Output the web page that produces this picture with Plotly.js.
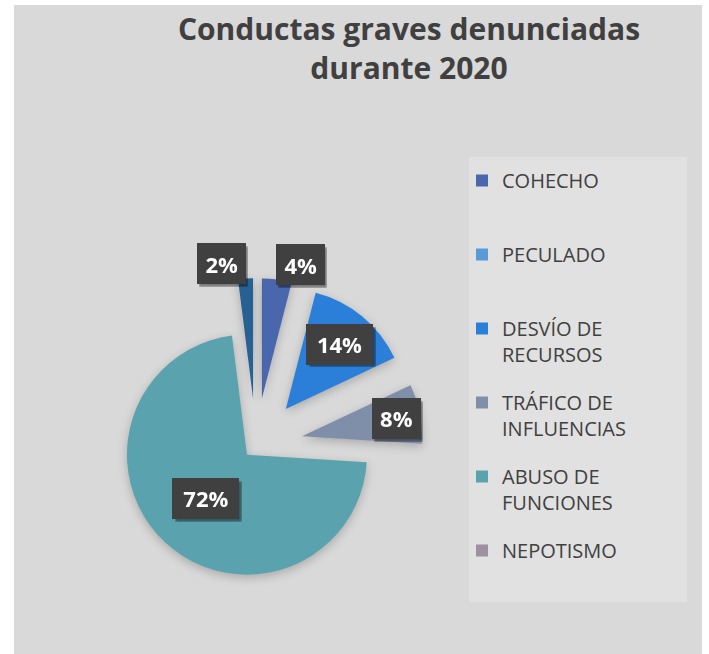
<!DOCTYPE html>
<html>
<head>
<meta charset="utf-8">
<script src="https://cdn.plot.ly/plotly-3.0.1.min.js"></script>
<style>
  html, body { margin: 0; padding: 0; background: #ffffff; }
  #chart { position: absolute; left: 14px; top: 5px; width: 688px; height: 649px; }
  .pielayer g.slicetext { filter: url(#lblbg); }
  .pielayer .trace:first-child g.slice path.surface { filter: drop-shadow(0px 3px 5px rgba(0,0,0,0.22)); }
</style>
</head>
<body>
<svg width="0" height="0" style="position:absolute">
  <defs>
    <filter id="lblbg" x="-0.6" y="-0.6" width="2.2" height="2.2" primitiveUnits="objectBoundingBox" color-interpolation-filters="sRGB">
      <feFlood flood-color="#000000" flood-opacity="0.45" x="-0.17" y="-0.07" width="1.46" height="1.33" result="sh"/>
      <feGaussianBlur in="sh" stdDeviation="0.04 0.06" result="shb"/>
      <feFlood flood-color="#404040" x="-0.23" y="-0.165" width="1.46" height="1.33" result="box"/>
      <feMerge>
        <feMergeNode in="shb"/>
        <feMergeNode in="box"/>
        <feMergeNode in="SourceGraphic"/>
      </feMerge>
    </filter>
  </defs>
</svg>
<div id="chart"></div>
<script>
// ---- data ----
const categories = ['COHECHO', 'PECULADO', 'DESVÍO DE RECURSOS', 'TRÁFICO DE INFLUENCIAS', 'ABUSO DE FUNCIONES', 'NEPOTISMO'];
const legendLabels = ['COHECHO<br>\u00a0', 'PECULADO<br>\u00a0', 'DESVÍO DE<br>RECURSOS', 'TRÁFICO DE<br>INFLUENCIAS', 'ABUSO DE<br>FUNCIONES', 'NEPOTISMO<br>\u00a0'];
const values = [4, 0, 14, 8, 72, 0];
const extraLabel = 'OTROS';
const extraValue = 2;
const colors = ['#4A66AC', '#5B9BD5', '#2B7FD9', '#7F8FAA', '#5AA3AE', '#9E8FA1'];
const extraColor = '#276092';

// ---- styling ----
const pulls = [0.39, 0.39, 0.39, 0.39, 0.11, 0.39, 0.39];
const textPos = values.map((v, i) => v === 0 ? 'none' : (i === 0 ? 'outside' : 'inside')).concat(['outside']);
const labelFont = { family: 'Open Sans', size: 22, weight: 'bold', color: '#ffffff' };

const mainTrace = {
  type: 'pie',
  labels: categories.concat([extraLabel]),
  values: values.concat([extraValue]),
  marker: { colors: colors.concat([extraColor]), line: { width: 0 } },
  sort: false,
  direction: 'clockwise',
  rotation: 0,
  pull: pulls,
  textinfo: 'percent',
  textposition: textPos,
  insidetextorientation: 'horizontal',
  insidetextfont: labelFont,
  outsidetextfont: labelFont,
  showlegend: false,
  hoverinfo: 'label+percent',
  domain: { x: [0.1093, 0.5942], y: [0.0650, 0.5790] }
};

// legend-only helper traces (label swatches only, tiny and hidden beneath the legend panel)
const legendTraces = categories.map((c, i) => ({
  type: 'pie',
  labels: [legendLabels[i]],
  marker: { colors: [colors[i]], line: { width: 0 } },
  textinfo: 'none',
  hoverinfo: 'skip',
  legendgroup: 'g' + i,
  showlegend: true,
  sort: false,
  domain: { x: [0.95, 0.951], y: [0.15, 0.151] }
}));

const layout = {
  width: 688,
  height: 649,
  margin: { l: 0, r: 0, t: 0, b: 0 },
  paper_bgcolor: '#D9D9D9',
  plot_bgcolor: '#D9D9D9',
  title: {
    text: 'Conductas graves denunciadas<br>durante 2020',
    font: { family: 'Open Sans', size: 30, weight: 'bold', color: '#404040' },
    x: 395 / 688,
    xanchor: 'center',
    xref: 'container',
    y: 1 - 35 / 649,
    yanchor: 'top',
    yref: 'container'
  },
  legend: {
    x: 448 / 688,
    xanchor: 'left',
    y: 1 - 156 / 649,
    yanchor: 'top',
    bgcolor: 'rgba(0,0,0,0)',
    borderwidth: 0,
    traceorder: 'grouped',
    tracegroupgap: 19,
    valign: 'top',
    font: { family: 'Open Sans', size: 20, color: '#404040' }
  },
  shapes: [{
    type: 'rect', xref: 'paper', yref: 'paper', layer: 'above',
    x0: 455 / 688, x1: 673 / 688, y0: 1 - 597 / 649, y1: 1 - 152 / 649,
    fillcolor: '#E1E1E1', line: { width: 0 }
  }],
  showlegend: true
};

Plotly.newPlot('chart', [mainTrace].concat(legendTraces), layout, { displayModeBar: false, staticPlot: true });
</script>
</body>
</html>
